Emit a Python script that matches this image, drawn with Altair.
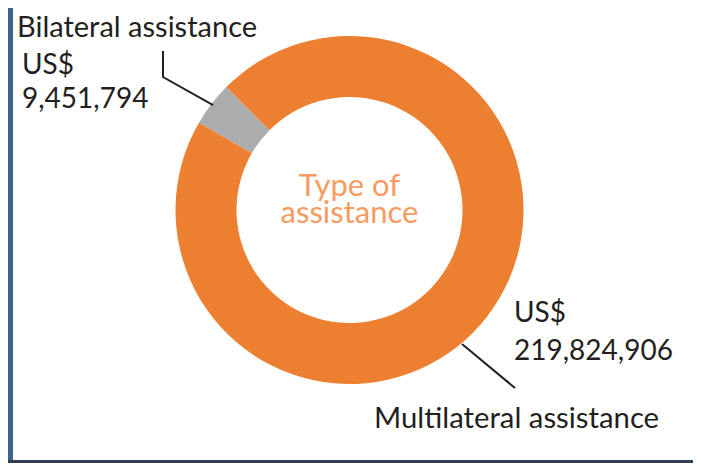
import math
import altair as alt
import pandas as pd

# ---------------- data ----------------
types = ["Bilateral assistance", "Multilateral assistance"]
amounts = [9451794, 219824906]
amount_labels = ["9,451,794", "219,824,906"]
currency = "US$"
center_lines = ["Type of", "assistance"]
slice_colors = ["#ABACAE", "#ED7F31"]

# ---------------- layout (page pixel coordinates) ----------------
W, H = 685, 455          # chart size, placed at page (8, 8)
OX, OY = 8, 8
CX, CY = 349.5, 210.0    # donut centre
R_OUT, R_IN = 174, 113
START_DEG = 300.1        # where the first slice starts (clockwise from 12 o'clock)
FONT = "Lato"
TEXT_COLOR = "#231F20"
CENTER_COLOR = "#F59C62"

total = sum(amounts)
start_rad = math.radians(START_DEG)

df_arc = pd.DataFrame({"type": types, "amount": amounts, "ord": [0, 1]})

xs = alt.Scale(domain=[OX, OX + W], range=[0, W])
ys = alt.Scale(domain=[OY, OY + H], reverse=True)

arc = alt.Chart(df_arc).mark_arc(outerRadius=R_OUT, innerRadius=R_IN).encode(
    theta=alt.Theta("amount:Q", stack=True,
                    scale=alt.Scale(range=[start_rad, start_rad + 2 * math.pi])),
    color=alt.Color("type:N", scale=alt.Scale(domain=types, range=slice_colors), legend=None),
    order=alt.Order("ord:Q"),
    x=alt.value(CX - OX),
    y=alt.value(CY - OY),
)

# leader lines: start on the ring edge, then to label
def ring_point(deg, r):
    a = math.radians(deg)
    return CX + r * math.sin(a), CY - r * math.cos(a)

bil_mid = START_DEG + 360 * amounts[0] / total / 2
b0 = ring_point(bil_mid, R_OUT - 2)
m0 = ring_point(140, R_OUT + 1)
lead = pd.DataFrame({
    "g": ["b", "b", "b", "m", "m"],
    "o": [0, 1, 2, 0, 1],
    "x": [b0[0], 163, 163, m0[0], 515],
    "y": [b0[1], 77, 51, m0[1], 388],
})
lines = alt.Chart(lead).mark_line(color=TEXT_COLOR, strokeWidth=2).encode(
    x=alt.X("x:Q", scale=xs, axis=None),
    y=alt.Y("y:Q", scale=ys, axis=None),
    detail="g:N",
    order="o:Q",
)

labels = pd.DataFrame({
    "t": [types[0], currency, amount_labels[0], currency, amount_labels[1], types[1]],
    "x": [17, 22, 22, 514, 514, 374],
    "y": [37, 74, 108, 322, 360, 428],
    "s": [29, 28, 28, 28, 28, 29.3],
})
label_text = alt.Chart(labels).mark_text(
    align="left", baseline="alphabetic", font=FONT, color=TEXT_COLOR
).encode(
    x=alt.X("x:Q", scale=xs, axis=None),
    y=alt.Y("y:Q", scale=ys, axis=None),
    size=alt.Size("s:Q", scale=None, legend=None),
    text="t:N",
)

center = pd.DataFrame({"t": center_lines, "x": [CX, CX], "y": [196, 223]})
center_text = alt.Chart(center).mark_text(
    align="center", baseline="alphabetic", font=FONT, fontSize=31, color=CENTER_COLOR
).encode(
    x=alt.X("x:Q", scale=xs, axis=None),
    y=alt.Y("y:Q", scale=ys, axis=None),
    text="t:N",
)

frame_df = pd.DataFrame({"k": [0]})
left_bar = alt.Chart(frame_df).mark_rect(color="#3E6289").encode(
    x=alt.value(0), x2=alt.value(5), y=alt.value(0), y2=alt.value(H)
)
bottom_bar = alt.Chart(frame_df).mark_rect(color="#2E3F52").encode(
    x=alt.value(0), x2=alt.value(W), y=alt.value(H - 3), y2=alt.value(H)
)

chart = alt.layer(arc, lines, label_text, center_text, left_bar, bottom_bar).properties(
    width=W, height=H, padding=0, autosize=alt.AutoSizeParams(type="none"),
    background="white",
).configure_view(stroke=None)

chart.save("out.html", embed_options={"renderer": "svg", "actions": False})
